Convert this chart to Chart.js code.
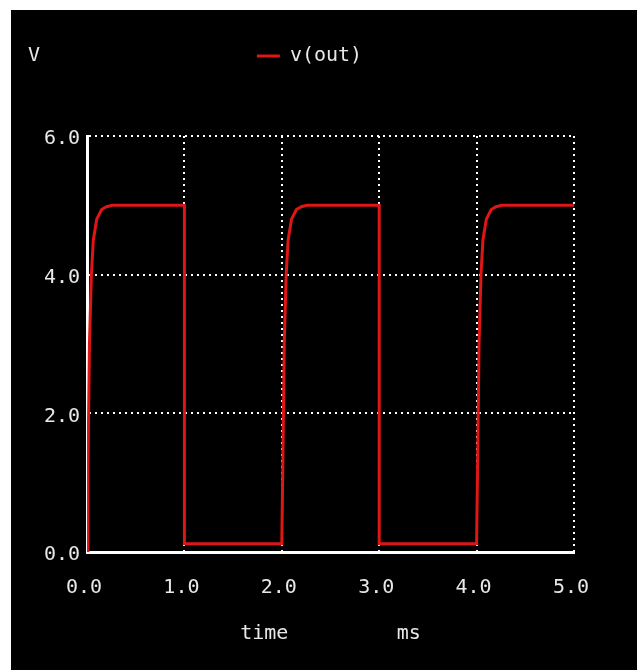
<!DOCTYPE html>
<html>
<head>
<meta charset="utf-8">
<script src="https://cdn.jsdelivr.net/npm/chart.js@4/dist/chart.umd.min.js"></script>
<style>
  html, body { margin: 0; padding: 0; background: #ffffff; }
  canvas { display: block; }
</style>
</head>
<body>
<canvas id="mycanvas" width="637" height="670"></canvas>
<script>
// v(out) transient, time in ms
var timeMs = [0, 0.01, 0.025, 0.045, 0.065, 0.1, 0.15, 0.2, 0.26, 1.0, 1.0,
              2.0, 2.01, 2.025, 2.045, 2.065, 2.1, 2.15, 2.2, 2.26, 3.0, 3.0,
              4.0, 4.01, 4.025, 4.045, 4.065, 4.1, 4.15, 4.2, 4.26, 5.0];
var vOut = [0, 1.2, 3.0, 4.0, 4.5, 4.8, 4.94, 4.98, 5.0, 5.0, 0.12,
            0.12, 1.2, 3.0, 4.0, 4.5, 4.8, 4.94, 4.98, 5.0, 5.0, 0.12,
            0.12, 1.2, 3.0, 4.0, 4.5, 4.8, 4.94, 4.98, 5.0, 5.0];
var seriesName = 'v(out)';
var yUnit = 'V';
var xTitle = 'time         ms';
var xTicks = [0, 1, 2, 3, 4, 5];
var yTicks = [0, 2, 4, 6];

var textColor = '#e8e8e8';
var lineRed = 'rgb(222, 22, 22)';

Chart.defaults.font.family = "'DejaVu Sans Mono', 'Liberation Mono', monospace";
Chart.defaults.font.size = 20;
Chart.defaults.color = textColor;

var points = [];
for (var i = 0; i < timeMs.length; i++) {
	points.push({x: timeMs[i], y: vOut[i]});
}

// black panel + the "V" unit label in the corner
var panel = {
	id: 'panel',
	beforeDraw: function(chart) {
		var ctx = chart.ctx;
		ctx.save();
		ctx.fillStyle = '#000000';
		ctx.fillRect(11, 10, chart.width - 11, chart.height - 10);
		ctx.restore();
	},
	afterDraw: function(chart) {
		var ctx = chart.ctx;
		ctx.save();
		ctx.font = "20px 'DejaVu Sans Mono'";
		ctx.fillStyle = textColor;
		ctx.textAlign = 'left';
		ctx.textBaseline = 'middle';
		ctx.fillText(yUnit, 28, 56);
		ctx.restore();
	}
};

var ctx = document.getElementById('mycanvas');

var chart = new Chart(ctx, {
	type: 'line',
	data: {
		datasets: [{
			label: seriesName,
			data: points,
			borderColor: lineRed,
			backgroundColor: lineRed,
			borderWidth: 3,
			pointRadius: 0,
			tension: 0,
			fill: false
		}]
	},
	options: {
		responsive: false,
		animation: false,
		devicePixelRatio: 1,
		layout: {padding: {left: 11, right: 29, top: 36, bottom: 0}},
		plugins: {
			tooltip: {enabled: false},
			legend: {
				position: 'top',
				labels: {
					boxWidth: 23,
					boxHeight: 3,
					padding: 10,
					color: textColor,
					generateLabels: function(chart) {
						return [{
							text: seriesName,
							fillStyle: lineRed,
							strokeStyle: lineRed,
							fontColor: textColor,
							lineWidth: 0,
							hidden: false,
							datasetIndex: 0
						}];
					}
				}
			}
		},
		scales: {
			x: {
				type: 'linear',
				min: 0,
				max: 5,
				afterBuildTicks: function(s) { s.ticks = xTicks.map(function(v) { return {value: v}; }); },
				afterFit: function(s) { s.height = 118; },
				ticks: {
					padding: 24,
					labelOffset: -3,
					maxRotation: 0,
					callback: function(v) { return v.toFixed(1); }
				},
				grid: {color: '#ffffff', lineWidth: 2, drawTicks: false},
				border: {display: true, color: '#ffffff', width: 3, dash: [2, 4]},
				title: {display: true, text: xTitle, padding: {top: 0, bottom: 24}}
			},
			y: {
				min: 0,
				max: 6,
				afterBuildTicks: function(s) { s.ticks = yTicks.map(function(v) { return {value: v}; }); },
				afterFit: function(s) { s.width = 76; },
				ticks: {
					padding: 7,
					labelOffset: 3,
					callback: function(v) { return v.toFixed(1); }
				},
				grid: {color: '#ffffff', lineWidth: 2, drawTicks: false},
				border: {display: true, color: '#ffffff', width: 3, dash: [2, 4]}
			},
			xTop: {
				type: 'linear',
				position: 'top',
				display: true,
				ticks: {display: false},
				grid: {display: false},
				border: {display: false},
				afterFit: function(s) { s.height = 60; }
			},
			yRight: {
				type: 'linear',
				position: 'right',
				display: true,
				ticks: {display: false},
				grid: {display: false},
				border: {display: false},
				afterFit: function(s) { s.width = 34; }
			}
		}
	},
	plugins: [panel]
});
</script>
</body>
</html>
